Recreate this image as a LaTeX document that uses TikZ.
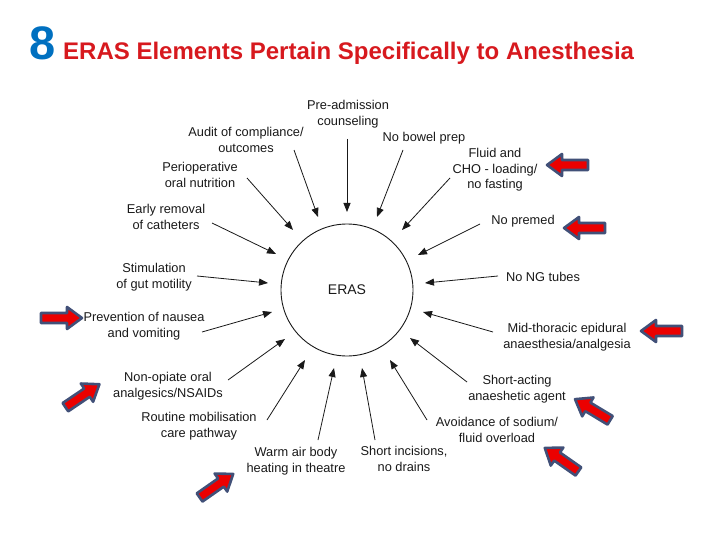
\documentclass[tikz,border=0pt]{standalone}
\usepackage{fontspec}
\setmainfont{Liberation Sans}
\usetikzlibrary{arrows.meta}
\definecolor{titlered}{RGB}{215,25,30}
\definecolor{eightblue}{RGB}{0,112,192}
\definecolor{arrred}{RGB}{235,0,0}
\definecolor{arrrim}{RGB}{65,80,120}
\definecolor{txt}{RGB}{25,25,25}
\tikzset{
  lbl/.style={align=center, text=txt, font=\fontsize{12.8}{15.5}\selectfont, inner sep=0pt},
  conn/.style={draw=txt, line width=0.8pt, -{Triangle[length=9pt,width=7pt]}},
  redarr/.pic={\draw[draw=arrrim, line width=2.6pt, line join=round, fill=arrred]
     (-20,-5) -- (6,-5) -- (6,-11) -- (21,0) -- (6,11) -- (6,5) -- (-20,5) -- cycle;}
}
\begin{document}
\begin{tikzpicture}[x=1pt,y=-1pt]
\useasboundingbox (0,0) rectangle (720,540);
% title
\node[anchor=base west, inner sep=0pt, text=eightblue, font=\fontsize{47}{47}\selectfont\bfseries] (eight) at (29,60) {8};
\node[anchor=base west, inner sep=0pt, text=titlered, font=\fontsize{24}{26}\selectfont\bfseries] (title) at (63,60) {ERAS Elements Pertain Specifically to Anesthesia};
% centre
\node[circle, draw=txt, line width=0.9pt, minimum size=132pt, inner sep=0pt, font=\fontsize{14}{16}\selectfont, text=txt] (eras) at (347,290) {ERAS};
% labels
\node[lbl] (pre) at (348,114) {Pre-admission\\counseling};
\node[lbl] (audit) at (246,140) {Audit of compliance/\\outcomes};
\node[lbl] (perio) at (200,175) {Perioperative\\oral nutrition};
\node[lbl] (early) at (166,217) {Early removal\\of catheters};
\node[lbl] (stim) at (154,277) {Stimulation\\of gut motility};
\node[lbl] (prev) at (144,326) {Prevention of nausea\\and vomiting};
\node[lbl] (nonop) at (168,386) {Non-opiate oral\\analgesics/NSAIDs};
\node[lbl] (routine) at (199,426) {Routine mobilisation\\care pathway};
\node[lbl] (warm) at (296,461) {Warm air body\\heating in theatre};
\node[lbl] (short) at (404,459) {Short incisions,\\no drains};
\node[lbl] (avoid) at (497,430) {Avoidance of sodium/\\fluid overload};
\node[lbl] (shortact) at (517,389) {Short-acting\\anaeshetic agent};
\node[lbl] (mid) at (567,337) {Mid-thoracic epidural\\anaesthesia/analgesia};
\node[lbl] (ng) at (543,277) {No NG tubes};
\node[lbl] (premed) at (523,221) {No premed};
\node[lbl] (fluid) at (495,170) {Fluid and\\CHO - loading/\\no fasting};
\node[lbl] (bowel) at (424,138) {No bowel prep};
% connector ends
\coordinate (preT) at (347,139);  \coordinate (preH) at (347,212);
\coordinate (auditT) at (294,150); \coordinate (auditH) at (318,217);
\coordinate (perioT) at (247,178); \coordinate (perioH) at (293,230);
\coordinate (earlyT) at (212,223); \coordinate (earlyH) at (276,254);
\coordinate (stimT) at (197,276); \coordinate (stimH) at (268,283);
\coordinate (prevT) at (202,332); \coordinate (prevH) at (272,312);
\coordinate (nonopT) at (228,380); \coordinate (nonopH) at (285,339);
\coordinate (routineT) at (267,420); \coordinate (routineH) at (305,360);
\coordinate (warmT) at (318,440); \coordinate (warmH) at (334,368);
\coordinate (shortT) at (375,440); \coordinate (shortH) at (362,368);
\coordinate (avoidT) at (427,420); \coordinate (avoidH) at (390,360);
\coordinate (shortactT) at (467,382); \coordinate (shortactH) at (410,338);
\coordinate (midT) at (493,332); \coordinate (midH) at (423,312);
\coordinate (ngT) at (498,276); \coordinate (ngH) at (425,283);
\coordinate (premedT) at (480,224); \coordinate (premedH) at (418,255);
\coordinate (fluidT) at (450,178); \coordinate (fluidH) at (402,230);
\coordinate (bowelT) at (403,150); \coordinate (bowelH) at (377,217);
\foreach \n in {pre,audit,perio,early,stim,prev,nonop,routine,warm,short,avoid,shortact,mid,ng,premed,fluid,bowel}
  \draw[conn] (\n T) -- (\n H);
% red block arrows
\pic[rotate=180] at (568,165) {redarr};
\pic[rotate=180] at (585,228) {redarr};
\pic[rotate=180] at (662,331) {redarr};
\pic[rotate=149] at (593,410) {redarr};
\pic[rotate=145] at (562,460) {redarr};
\pic at (61,318) {redarr};
\pic[rotate=34] at (82,396) {redarr};
\pic[rotate=35] at (216,486) {redarr};
\end{tikzpicture}
\end{document}
